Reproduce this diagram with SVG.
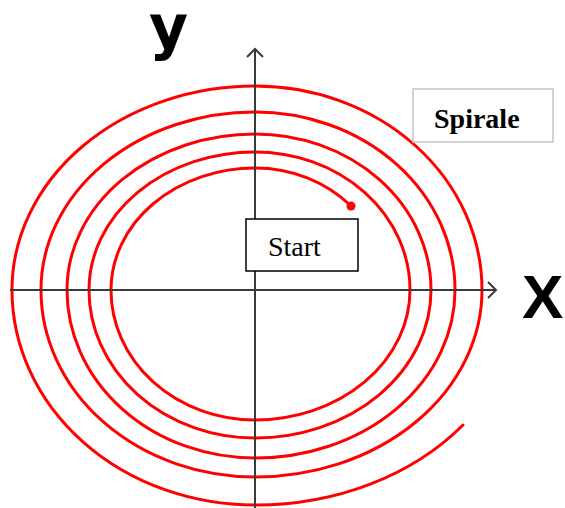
<svg xmlns="http://www.w3.org/2000/svg" width="565" height="508" viewBox="0 0 565 508">
<style>
.axis{stroke:#3a3a3a;stroke-width:2;fill:none}
.spiral{stroke:#ff0000;stroke-width:3;fill:none;stroke-linecap:round}
.lbl{font-weight:bold;fill:#000}
.box{font-family:"Liberation Serif","Times New Roman",serif;fill:#000}
</style>
<rect width="565" height="508" fill="#fff"/>
<g id="spiral">
<path class="spiral" d="M 351 206 A 132 122 0 0 0 255 168 A 144 122 0 0 0 111 290 A 144 130 0 0 0 255 420 A 155 130 0 0 0 410 290 A 155 138 0 0 0 255 152 A 166 138 0 0 0 89 290 A 166 148 0 0 0 255 438 A 176 148 0 0 0 431 290 A 176 156 0 0 0 255 134 A 188 156 0 0 0 67 290 A 188 168 0 0 0 255 458 A 200 168 0 0 0 455 290 A 200 178 0 0 0 255 112 A 214 178 0 0 0 41 290 A 214 187 0 0 0 255 477 A 227 187 0 0 0 482 290 A 227 204 0 0 0 255 86 A 243 204 0 0 0 12 290 A 243 215 0 0 0 255 505 A 266 215 0 0 0 463 425"/>
<circle cx="351" cy="206" r="4.5" fill="#ff0000"/>
</g>
<g id="connectors">
<line class="axis" x1="255" y1="508" x2="255" y2="49"/>
<polyline class="axis" points="247,57 255,49 263,57"/>
<line class="axis" x1="10" y1="290" x2="496" y2="290"/>
<polyline class="axis" points="488,282 496,290 488,298"/>
</g>
<g id="label-y"><text class="lbl" x="149" y="48" font-family="DejaVu Sans, sans-serif" font-size="60">y</text></g>
<g id="label-x"><text class="lbl" x="522" y="318" font-family="Liberation Sans, Arial, sans-serif" font-size="62">X</text></g>
<g id="start">
<rect x="246" y="219" width="112" height="52" fill="#fff" stroke="#000" stroke-width="1.5"/>
<text class="box" x="268" y="256" font-size="28">Start</text>
</g>
<g id="spirale">
<rect x="413" y="89" width="140" height="53" fill="#fff" stroke="#c4c4c4" stroke-width="1.5"/>
<text class="box" x="434" y="128" font-size="28" font-weight="bold">Spirale</text>
</g>
</svg>
